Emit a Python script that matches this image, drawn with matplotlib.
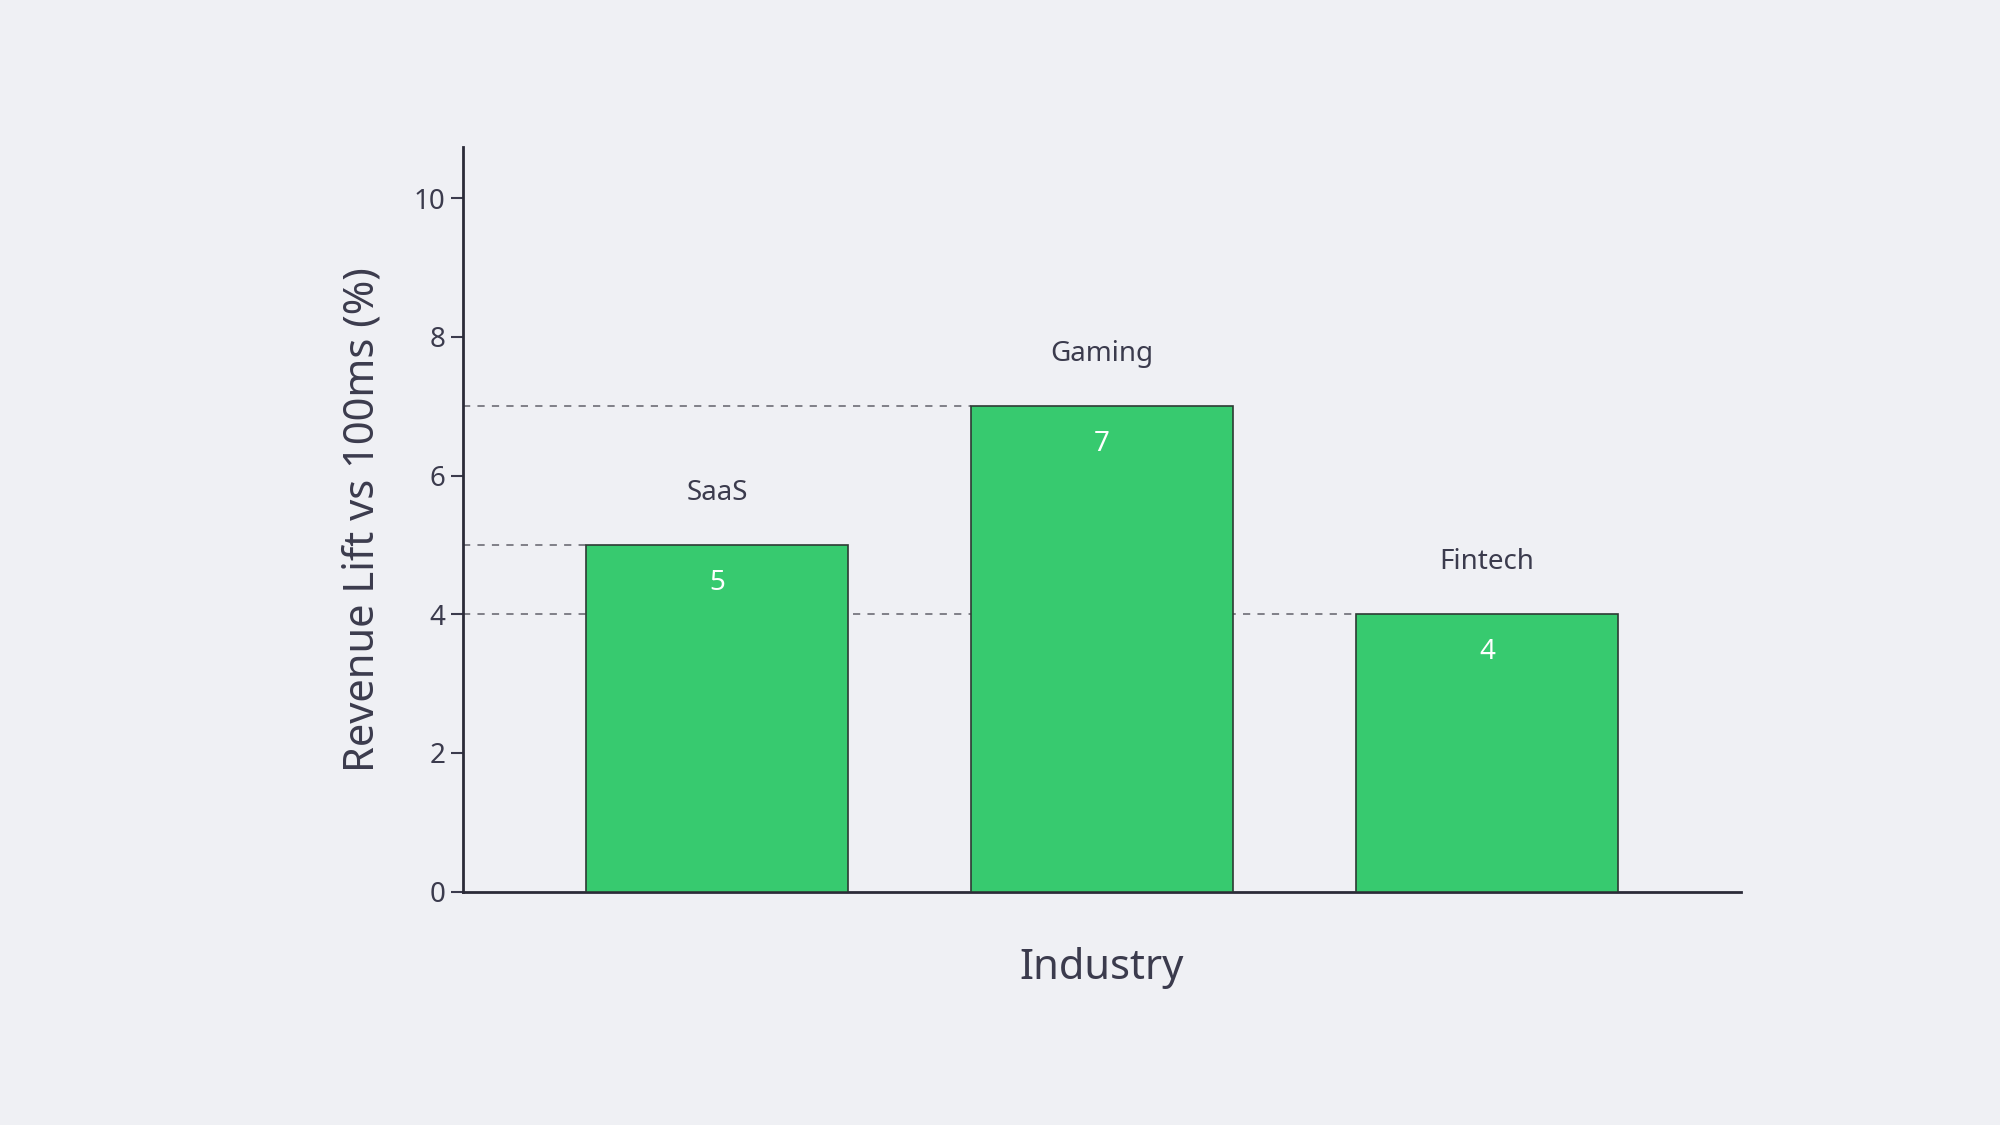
import matplotlib
matplotlib.use("Agg")
import matplotlib.pyplot as plt

categories = ["SaaS", "Gaming", "Fintech"]
values = [5, 7, 4]
yticks = [0, 2, 4, 6, 8, 10]

plt.rcParams["font.family"] = "Noto Sans"
txt = "#3b3b4d"
bg = "#eff0f4"
fig = plt.figure(figsize=(20, 11.25), dpi=100, facecolor=bg)
ax = fig.add_axes([0.2315, 0.2075, 0.639, 0.662], facecolor=bg)
x = list(range(len(categories)))
w = 0.68
ax.bar(x, values, width=w, color="#37ca6f", edgecolor="#2d3a33", linewidth=1.2, zorder=3)
xmin = -0.66
for xi, v, c in zip(x, values, categories):
    ax.plot([xmin, xi - w / 2], [v, v], ls=(0, (4, 4)), color="#77777f", lw=1.3, zorder=1)
    ax.text(xi, v + 0.55, c, ha="center", va="bottom", fontsize=20, color=txt)
    ax.text(xi, v - 0.35, str(v), ha="center", va="top", fontsize=20, color="white", zorder=4)
ax.set_xlim(xmin, 2.66)
ax.set_ylim(0, 10.74)
ax.set_yticks(yticks)
ax.set_xticks([])
for s in ["top", "right"]:
    ax.spines[s].set_visible(False)
for s in ["left", "bottom"]:
    ax.spines[s].set_color("#2b2b38")
    ax.spines[s].set_linewidth(2)
ax.tick_params(axis="y", labelsize=20, colors=txt, length=9, width=1.5)
ax.set_ylabel("Revenue Lift vs 100ms (%)", fontsize=30, color=txt, labelpad=22)
ax.set_xlabel("Industry", fontsize=30, color=txt, labelpad=40)
fig.savefig("out.png", dpi=100, facecolor=bg)
